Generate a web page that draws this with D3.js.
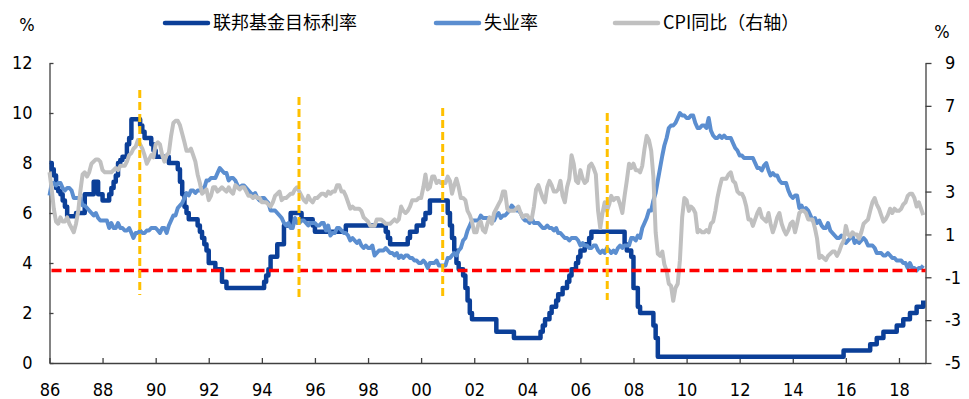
<!DOCTYPE html>
<html lang="zh">
  <head>
    <meta charset="UTF-8" />
    <meta name="viewport" content="width=device-width, initial-scale=1.0" />
    <title>fed funds vs unemployment</title>
    <style>
      body {
        margin: 0;
        background: #fff;
      }
      svg {
        display: block;
      }
      .axis text,
      .unit {
        font-family: "DejaVu Sans Condensed", "DejaVu Sans", sans-serif;
        font-stretch: condensed;
        font-size: 18px;
        fill: #000;
      }
      .axis path,
      .axis line {
        stroke: #404040;
        stroke-width: 1.3;
      }
      .legend text {
        font-family: "Noto Sans CJK SC", sans-serif;
        font-size: 18px;
        fill: #000;
      }
      .series {
        fill: none;
        stroke-linejoin: round;
      }
    </style>
    <script src="https://cdn.jsdelivr.net/npm/d3@7"></script>
  </head>
  <body>
    <div class="container"></div>
    <script>
      // monthly, Jan 1986 - Dec 2018
      const firstMonth = new Date(1986, 0, 1);
      const lastMonth = new Date(2018, 11, 1);

      // 联邦基金目标利率 (%)
      const fedRate = [
        8, 7.75, 7.5, 7, 6.875, 6.75, 6.5, 6.25, 5.875, 5.875, 5.875, 5.875,
        6, 6, 6, 6, 6.75, 6.75, 6.75, 6.75, 7.25, 7.25, 6.75, 6.75,
        6.5, 6.5, 6.5, 6.75, 7, 7.25, 7.5, 8, 8.125, 8.25, 8.25, 8.75,
        9, 9.75, 9.75, 9.75, 9.75, 9.5, 9.25, 9, 9, 9, 8.75, 8.5,
        8.25, 8.25, 8.25, 8.25, 8.25, 8.25, 8, 8, 8, 8, 7.75, 7.25,
        6.75, 6.25, 6, 5.75, 5.75, 5.75, 5.75, 5.5, 5.25, 5, 4.75, 4.5,
        4, 4, 4, 3.75, 3.75, 3.75, 3.25, 3.25, 3, 3, 3, 3,
        3, 3, 3, 3, 3, 3, 3, 3, 3, 3, 3, 3,
        3, 3.25, 3.5, 3.75, 4.25, 4.25, 4.25, 4.75, 4.75, 4.75, 5.5, 5.5,
        5.5, 6, 6, 6, 6, 6, 5.75, 5.75, 5.75, 5.75, 5.75, 5.5,
        5.25, 5.25, 5.25, 5.25, 5.25, 5.25, 5.25, 5.25, 5.25, 5.25, 5.25, 5.25,
        5.25, 5.25, 5.5, 5.5, 5.5, 5.5, 5.5, 5.5, 5.5, 5.5, 5.5, 5.5,
        5.5, 5.5, 5.5, 5.5, 5.5, 5.5, 5.5, 5.5, 5.25, 5, 4.75, 4.75,
        4.75, 4.75, 4.75, 4.75, 4.75, 4.75, 5, 5.25, 5.25, 5.25, 5.5, 5.5,
        5.5, 5.75, 6, 6, 6.5, 6.5, 6.5, 6.5, 6.5, 6.5, 6.5, 6.5,
        6, 5.5, 5, 4.5, 4, 3.75, 3.75, 3.5, 3, 2.5, 2, 1.75,
        1.75, 1.75, 1.75, 1.75, 1.75, 1.75, 1.75, 1.75, 1.75, 1.75, 1.25, 1.25,
        1.25, 1.25, 1.25, 1.25, 1.25, 1.25, 1, 1, 1, 1, 1, 1,
        1, 1, 1, 1, 1, 1, 1.25, 1.5, 1.75, 1.75, 2, 2.25,
        2.25, 2.5, 2.75, 2.75, 3, 3, 3.25, 3.5, 3.75, 3.75, 4, 4.25,
        4.5, 4.5, 4.75, 4.75, 5, 5.25, 5.25, 5.25, 5.25, 5.25, 5.25, 5.25,
        5.25, 5.25, 5.25, 5.25, 5.25, 5.25, 5.25, 5.25, 4.75, 4.5, 4.5, 4.25,
        3, 3, 2.25, 2, 2, 2, 2, 2, 2, 1.5, 1, 0.25,
        0.25, 0.25, 0.25, 0.25, 0.25, 0.25, 0.25, 0.25, 0.25, 0.25, 0.25, 0.25,
        0.25, 0.25, 0.25, 0.25, 0.25, 0.25, 0.25, 0.25, 0.25, 0.25, 0.25, 0.25,
        0.25, 0.25, 0.25, 0.25, 0.25, 0.25, 0.25, 0.25, 0.25, 0.25, 0.25, 0.25,
        0.25, 0.25, 0.25, 0.25, 0.25, 0.25, 0.25, 0.25, 0.25, 0.25, 0.25, 0.25,
        0.25, 0.25, 0.25, 0.25, 0.25, 0.25, 0.25, 0.25, 0.25, 0.25, 0.25, 0.25,
        0.25, 0.25, 0.25, 0.25, 0.25, 0.25, 0.25, 0.25, 0.25, 0.25, 0.25, 0.25,
        0.25, 0.25, 0.25, 0.25, 0.25, 0.25, 0.25, 0.25, 0.25, 0.25, 0.25, 0.5,
        0.5, 0.5, 0.5, 0.5, 0.5, 0.5, 0.5, 0.5, 0.5, 0.5, 0.5, 0.75,
        0.75, 0.75, 1, 1, 1, 1.25, 1.25, 1.25, 1.25, 1.25, 1.25, 1.5,
        1.5, 1.5, 1.75, 1.75, 1.75, 2, 2, 2, 2.25, 2.25, 2.25, 2.5,
      ];

      // 失业率 (%)
      const unemployment = [
        6.7, 7.2, 7.2, 7.1, 7.2, 7.2, 7.0, 6.9, 7.0, 7.0, 6.9, 6.6,
        6.6, 6.6, 6.6, 6.3, 6.3, 6.2, 6.1, 6.0, 5.9, 6.0, 5.8, 5.7,
        5.7, 5.7, 5.7, 5.4, 5.6, 5.4, 5.4, 5.6, 5.4, 5.4, 5.3, 5.3,
        5.4, 5.2, 5.0, 5.2, 5.2, 5.3, 5.2, 5.2, 5.3, 5.3, 5.4, 5.4,
        5.4, 5.3, 5.2, 5.4, 5.4, 5.2, 5.5, 5.7, 5.9, 5.9, 6.2, 6.3,
        6.4, 6.6, 6.8, 6.7, 6.9, 6.9, 6.8, 6.9, 6.9, 7.0, 7.0, 7.3,
        7.3, 7.4, 7.4, 7.4, 7.6, 7.8, 7.7, 7.6, 7.6, 7.3, 7.4, 7.4,
        7.3, 7.1, 7.0, 7.1, 7.1, 7.0, 6.9, 6.8, 6.7, 6.8, 6.6, 6.5,
        6.6, 6.6, 6.5, 6.4, 6.1, 6.1, 6.1, 6.0, 5.9, 5.8, 5.6, 5.5,
        5.6, 5.4, 5.4, 5.8, 5.6, 5.6, 5.7, 5.7, 5.6, 5.5, 5.6, 5.6,
        5.6, 5.5, 5.5, 5.6, 5.6, 5.3, 5.5, 5.1, 5.2, 5.2, 5.4, 5.4,
        5.3, 5.2, 5.2, 5.1, 4.9, 5.0, 4.9, 4.8, 4.9, 4.7, 4.6, 4.7,
        4.6, 4.6, 4.7, 4.3, 4.4, 4.5, 4.5, 4.5, 4.6, 4.5, 4.4, 4.4,
        4.3, 4.4, 4.2, 4.3, 4.2, 4.3, 4.3, 4.2, 4.2, 4.1, 4.1, 4.0,
        4.0, 4.1, 4.0, 3.8, 4.0, 4.0, 4.0, 4.1, 3.9, 3.9, 3.9, 3.9,
        4.2, 4.2, 4.3, 4.4, 4.3, 4.5, 4.6, 4.9, 5.0, 5.3, 5.5, 5.7,
        5.7, 5.7, 5.7, 5.9, 5.8, 5.8, 5.8, 5.7, 5.7, 5.7, 5.9, 6.0,
        5.8, 5.9, 5.9, 6.0, 6.1, 6.3, 6.2, 6.1, 6.1, 6.0, 5.8, 5.7,
        5.7, 5.6, 5.8, 5.6, 5.6, 5.6, 5.5, 5.4, 5.4, 5.5, 5.4, 5.4,
        5.3, 5.4, 5.2, 5.2, 5.1, 5.0, 5.0, 4.9, 5.0, 5.0, 5.0, 4.9,
        4.7, 4.8, 4.7, 4.7, 4.6, 4.6, 4.7, 4.7, 4.5, 4.4, 4.5, 4.4,
        4.6, 4.5, 4.4, 4.5, 4.4, 4.6, 4.7, 4.6, 4.7, 4.7, 4.7, 5.0,
        5.0, 4.9, 5.1, 5.0, 5.4, 5.6, 5.8, 6.1, 6.1, 6.5, 6.8, 7.3,
        7.8, 8.3, 8.7, 9.0, 9.4, 9.5, 9.5, 9.6, 9.8, 10.0, 9.9, 9.9,
        9.8, 9.8, 9.9, 9.9, 9.6, 9.4, 9.4, 9.5, 9.5, 9.4, 9.8, 9.3,
        9.1, 9.0, 9.0, 9.1, 9.0, 9.1, 9.0, 9.0, 9.0, 8.8, 8.6, 8.5,
        8.3, 8.3, 8.2, 8.2, 8.2, 8.2, 8.2, 8.0, 7.8, 7.8, 7.7, 7.9,
        8.0, 7.7, 7.5, 7.6, 7.5, 7.5, 7.3, 7.2, 7.2, 7.2, 6.9, 6.7,
        6.6, 6.7, 6.7, 6.2, 6.3, 6.1, 6.2, 6.1, 5.9, 5.7, 5.8, 5.6,
        5.7, 5.5, 5.4, 5.4, 5.6, 5.3, 5.2, 5.1, 5.0, 5.0, 5.1, 5.0,
        4.8, 4.9, 5.0, 5.1, 4.8, 4.9, 4.8, 4.9, 5.0, 4.9, 4.7, 4.7,
        4.7, 4.6, 4.4, 4.4, 4.4, 4.3, 4.3, 4.4, 4.3, 4.2, 4.2, 4.1,
        4.1, 4.1, 4.0, 4.0, 3.8, 4.0, 3.8, 3.8, 3.7, 3.8, 3.8, 3.9,
      ];

      // CPI同比 (%, 右轴)
      const cpiYoY = [
        3.9, 3.1, 2.2, 1.6, 1.5, 1.8, 1.6, 1.6, 1.8, 1.5, 1.3, 1.1,
        1.5, 2.1, 3.0, 3.8, 3.9, 3.7, 3.9, 4.3, 4.4, 4.5, 4.5, 4.4,
        4.0, 3.9, 3.9, 3.9, 3.9, 4.0, 4.1, 4.0, 4.2, 4.2, 4.2, 4.4,
        4.7, 4.8, 5.0, 5.1, 5.4, 5.2, 5.0, 4.7, 4.3, 4.5, 4.7, 4.6,
        5.2, 5.3, 5.2, 4.7, 4.4, 4.7, 4.8, 5.6, 6.2, 6.3, 6.3, 6.1,
        5.7, 5.3, 4.9, 4.9, 5.0, 4.7, 4.4, 3.8, 3.4, 2.9, 3.0, 3.1,
        2.6, 2.8, 3.2, 3.2, 3.0, 3.1, 3.2, 3.1, 3.0, 3.2, 3.0, 2.9,
        3.3, 3.2, 3.1, 3.2, 3.2, 3.0, 2.8, 2.8, 2.7, 2.8, 2.7, 2.7,
        2.5, 2.5, 2.5, 2.4, 2.3, 2.5, 2.8, 2.9, 3.0, 2.6, 2.7, 2.7,
        2.8, 2.9, 2.9, 3.1, 3.2, 3.0, 2.8, 2.6, 2.5, 2.8, 2.6, 2.5,
        2.7, 2.7, 2.8, 2.9, 2.9, 2.8, 3.0, 2.9, 3.0, 3.0, 3.3, 3.3,
        3.0, 3.0, 2.8, 2.5, 2.2, 2.3, 2.2, 2.2, 2.2, 2.1, 1.8, 1.7,
        1.6, 1.4, 1.4, 1.4, 1.7, 1.7, 1.7, 1.6, 1.5, 1.5, 1.5, 1.6,
        1.7, 1.6, 1.7, 2.3, 2.1, 2.0, 2.1, 2.3, 2.6, 2.6, 2.6, 2.7,
        2.7, 3.2, 3.8, 3.1, 3.2, 3.7, 3.7, 3.4, 3.5, 3.4, 3.4, 3.4,
        3.7, 3.5, 2.9, 3.3, 3.6, 3.2, 2.7, 2.7, 2.6, 2.1, 1.9, 1.6,
        1.1, 1.1, 1.5, 1.6, 1.2, 1.1, 1.5, 1.8, 1.5, 2.0, 2.2, 2.4,
        2.6, 3.0, 3.0, 2.2, 2.1, 2.1, 2.1, 2.2, 2.3, 2.0, 1.8, 1.9,
        1.9, 1.7, 1.7, 2.3, 3.1, 3.3, 3.0, 2.7, 2.5, 3.2, 3.5, 3.3,
        3.0, 3.0, 3.1, 3.5, 2.8, 2.5, 3.2, 3.6, 4.7, 4.3, 3.5, 3.4,
        4.0, 3.6, 3.4, 3.5, 4.2, 4.3, 4.1, 3.8, 2.1, 1.3, 2.0, 2.5,
        2.1, 2.4, 2.8, 2.6, 2.7, 2.7, 2.4, 2.0, 2.8, 3.5, 4.3, 4.1,
        4.3, 4.0, 4.0, 3.9, 4.2, 5.0, 5.6, 5.4, 4.9, 3.7, 1.1, 0.1,
        0.0, 0.2, -0.4, -0.7, -1.3, -1.4, -2.1, -1.5, -1.3, -0.2, 1.8, 2.7,
        2.6, 2.1, 2.3, 2.2, 2.0, 1.1, 1.2, 1.1, 1.1, 1.2, 1.1, 1.5,
        1.6, 2.1, 2.7, 3.2, 3.6, 3.6, 3.6, 3.8, 3.9, 3.5, 3.4, 3.0,
        2.9, 2.9, 2.7, 2.3, 1.7, 1.7, 1.4, 1.7, 2.0, 2.2, 1.8, 1.7,
        1.6, 2.0, 1.5, 1.1, 1.4, 1.8, 2.0, 1.5, 1.2, 1.0, 1.2, 1.5,
        1.6, 1.1, 1.5, 2.0, 2.1, 2.1, 2.0, 1.7, 1.7, 1.7, 1.3, 0.8,
        -0.1, 0.0, -0.1, -0.2, 0.0, 0.1, 0.2, 0.2, 0.0, 0.2, 0.5, 0.7,
        1.4, 1.0, 0.9, 1.1, 1.0, 1.0, 0.8, 1.1, 1.5, 1.6, 1.7, 2.1,
        2.5, 2.7, 2.4, 2.2, 1.9, 1.6, 1.7, 1.9, 2.2, 2.0, 2.2, 2.1,
        2.1, 2.2, 2.4, 2.5, 2.8, 2.9, 2.9, 2.7, 2.3, 2.5, 2.2, 1.9,
      ];

      // 标注: 失业率参考水平 (左轴) 与 竖向虚线 (日期, 左轴起止值)
      const refUnemployment = 3.7;
      const markDates = ["1989-05-27", "1995-05-27", "2000-10-24", "2007-01-05"];
      const markLow = [2.72, 2.64, 2.52, 2.52];
      const markHigh = [10.92, 10.64, 10.2, 10.0];

      const leftTicks = [0, 2, 4, 6, 8, 10, 12];
      const rightTicks = [-5, -3, -1, 1, 3, 5, 7, 9];

      const seriesNames = ["联邦基金目标利率", "失业率", "CPI同比（右轴）"];
      const seriesColors = ["#0b3f98", "#5b8ed0", "#c0c0c0"];

      function init() {
        const width = 969,
          height = 399;
        const x0 = 49.5,
          x1 = 925.5,
          y0 = 363,
          y1 = 63;

        const months = d3.timeMonth.range(firstMonth, d3.timeMonth.offset(lastMonth, 1));

        const x = d3
          .scaleTime()
          .domain([firstMonth, new Date(2019, 0, 1)])
          .range([x0, x1]);
        const yL = d3.scaleLinear().domain([0, 12]).range([y0, y1]);
        const yR = d3.scaleLinear().domain([-5, 9]).range([y0, y1]);

        const svg = d3
          .select(".container")
          .append("svg")
          .attr("width", width)
          .attr("height", height);

        // axes
        svg
          .append("g")
          .attr("class", "axis")
          .attr("transform", "translate(" + x0 + ",0)")
          .call(
            d3
              .axisLeft(yL)
              .tickValues(leftTicks)
              .tickSizeInner(-4)
              .tickSizeOuter(0)
              .tickPadding(17)
              .tickFormat((d) => String(d))
          );

        svg
          .append("g")
          .attr("class", "axis")
          .attr("transform", "translate(" + x1 + ",0)")
          .call(
            d3
              .axisRight(yR)
              .tickValues(rightTicks)
              .tickSizeInner(6)
              .tickSizeOuter(0)
              .tickPadding(13.5)
              .tickFormat((d) => String(d))
          );

        svg
          .append("g")
          .attr("class", "axis")
          .attr("transform", "translate(0," + y0 + ")")
          .call(
            d3
              .axisBottom(x)
              .ticks(d3.timeYear.every(2))
              .tickSizeInner(-5)
              .tickSizeOuter(0)
              .tickPadding(20)
              .tickFormat(d3.timeFormat("%y"))
          );

        // series
        const fedLine = d3
          .line()
          .x((d, i) => x(months[i]))
          .y((d) => yL(d))
          .curve(d3.curveStepAfter);
        const leftLine = d3
          .line()
          .x((d, i) => x(months[i]))
          .y((d) => yL(d));
        const rightLine = d3
          .line()
          .x((d, i) => x(months[i]))
          .y((d) => yR(d));

        svg
          .append("path")
          .attr("class", "series")
          .attr("d", fedLine(fedRate))
          .attr("stroke", seriesColors[0])
          .attr("stroke-width", 4.5);

        svg
          .append("path")
          .attr("class", "series")
          .attr("d", leftLine(unemployment))
          .attr("stroke", seriesColors[1])
          .attr("stroke-width", 4);

        svg
          .append("path")
          .attr("class", "series")
          .attr("d", rightLine(cpiYoY))
          .attr("stroke", seriesColors[2])
          .attr("stroke-width", 4);

        // red reference line
        svg
          .append("line")
          .attr("x1", x0 + 2)
          .attr("x2", x1)
          .attr("y1", yL(refUnemployment))
          .attr("y2", yL(refUnemployment))
          .attr("stroke", "#ff0000")
          .attr("stroke-width", 3.5)
          .attr("stroke-dasharray", "10,4.5");

        // vertical marks
        const parse = d3.timeParse("%Y-%m-%d");
        svg
          .selectAll(".mark")
          .data(markDates)
          .enter()
          .append("line")
          .attr("class", "mark")
          .attr("x1", (d) => x(parse(d)))
          .attr("x2", (d) => x(parse(d)))
          .attr("y1", (d, i) => yL(markHigh[i]))
          .attr("y2", (d, i) => yL(markLow[i]))
          .attr("stroke", "#ffc000")
          .attr("stroke-width", 3)
          .attr("stroke-dasharray", "8,4");

        // units
        svg.append("text").attr("class", "unit").attr("x", 27).attr("y", 25).attr("dy", "0.35em").attr("text-anchor", "middle").text("%");
        svg.append("text").attr("class", "unit").attr("x", 942).attr("y", 32).attr("dy", "0.35em").attr("text-anchor", "middle").text("%");

        // legend
        const legendX = [165, 436, 615];
        const legend = svg
          .selectAll(".legend")
          .data(seriesNames)
          .enter()
          .append("g")
          .attr("class", "legend")
          .attr("transform", (d, i) => "translate(" + legendX[i] + ",23)");

        legend
          .append("line")
          .attr("x1", 0)
          .attr("x2", 43)
          .attr("stroke", (d, i) => seriesColors[i])
          .attr("stroke-width", 4.5)
          .attr("stroke-linecap", "round");

        legend
          .append("text")
          .attr("x", 48)
          .attr("dy", "0.35em")
          .text((d) => d);
      }
      init();
    </script>
  </body>
</html>
